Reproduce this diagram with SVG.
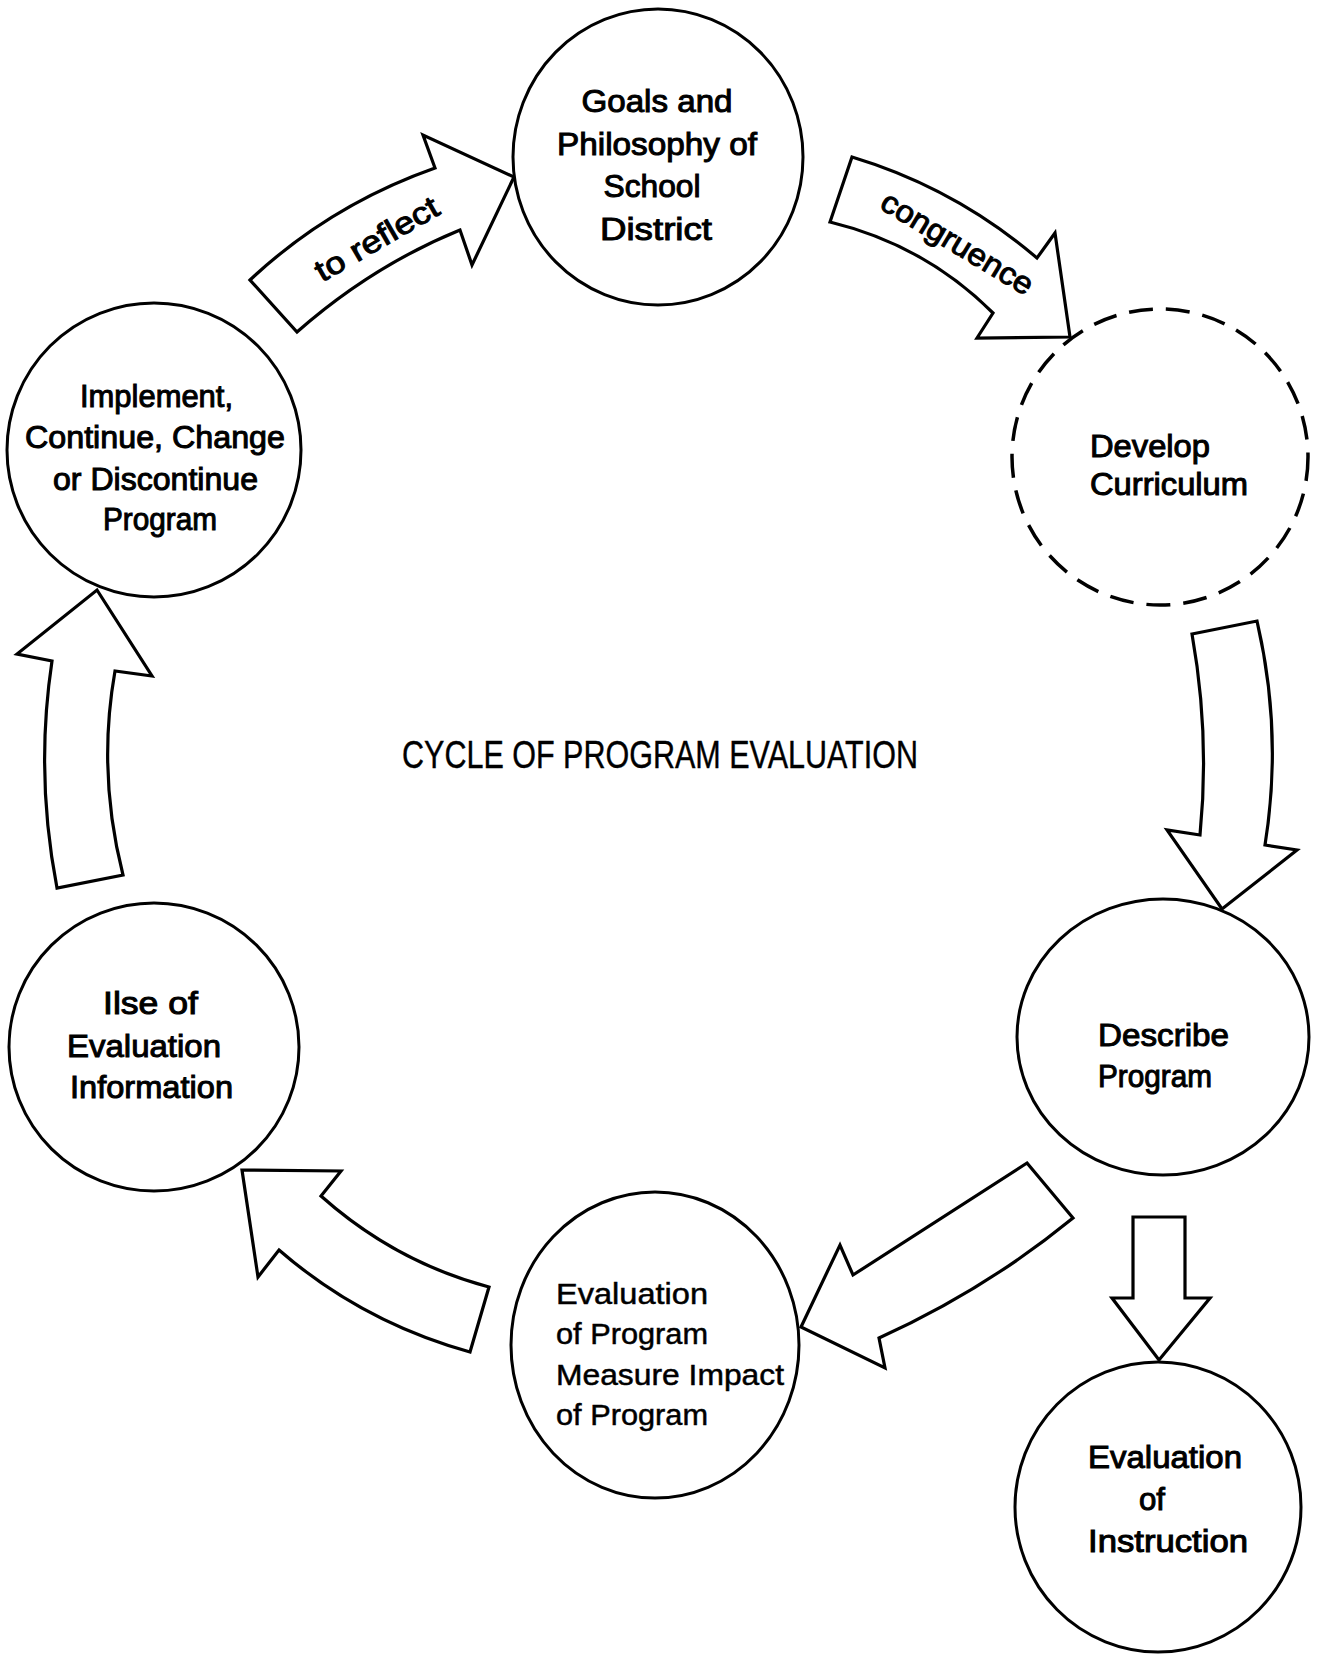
<svg xmlns="http://www.w3.org/2000/svg" width="1321" height="1654" viewBox="0 0 1321 1654">
<style>
.node{fill:#fff;stroke:#000;stroke-width:3}
.dash{fill:#fff;stroke:#000;stroke-width:3.5;stroke-dasharray:24 13}
.arrow{fill:#fff;stroke:#000;stroke-width:3.2;stroke-linejoin:miter}
.t{font-family:"Liberation Sans",Arial,sans-serif;font-size:31px;fill:#000;stroke:#000;stroke-width:1}
.tn{font-family:"Liberation Sans",Arial,sans-serif;font-size:30px;fill:#000;stroke:#000;stroke-width:0.5}
.title{font-family:"Liberation Sans",Arial,sans-serif;font-size:39px;fill:#000;stroke:#000;stroke-width:0.4}
</style>
<rect width="1321" height="1654" fill="#fff"/>
<g id="connectors">
  <g id="arrow-reflect">
    <path class="arrow" d="M250,280 Q330,205 435,168 L423,135 L514,177 L472,265 L460,230 Q372,266 297,332 Z"/>
    <text class="t" transform="translate(382,248) rotate(-30)" text-anchor="middle" textLength="138" lengthAdjust="spacingAndGlyphs">to reflect</text>
  </g>
  <g id="arrow-congruence">
    <path class="arrow" d="M852,157 Q955,188 1037,258 L1055,233 L1070,337 L977,338 L993,313 Q925,245 830,222 Z"/>
    <text class="t" transform="translate(952,252) rotate(31)" text-anchor="middle" textLength="172" lengthAdjust="spacingAndGlyphs">congruence</text>
  </g>
  <path id="arrow-develop-describe" class="arrow" d="M1192,634 L1257,621 Q1283,733 1265,845 L1297,850 L1222,909 L1167,830 L1200,835 Q1210,735 1192,634 Z"/>
  <path id="arrow-describe-instruction" class="arrow" d="M1133,1217 L1185,1217 L1185,1298 L1210,1298 L1159,1360 L1112,1298 L1133,1298 Z"/>
  <path id="arrow-describe-evalprogram" class="arrow" d="M1027,1163 L1073,1218 Q985,1290 879,1338 L885,1368 L801,1327 L840,1245 L853,1275 Q945,1216 1027,1163 Z"/>
  <path id="arrow-evalprogram-use" class="arrow" d="M242,1170 L341,1171 L321,1196 Q395,1262 489,1287 L470,1352 Q362,1322 279,1250 L258,1277 Z"/>
  <path id="arrow-use-implement" class="arrow" d="M97,590 L152,676 L115,671 Q97,773 123,875 L57,888 Q35,774 52,661 L17,654 Z"/>
</g>
<g id="node-goals">
  <ellipse class="node" cx="658" cy="157" rx="145" ry="148"/>
  <text class="t" x="657" y="112" text-anchor="middle" textLength="151" lengthAdjust="spacingAndGlyphs">Goals and</text>
  <text class="t" x="657" y="155" text-anchor="middle" textLength="200" lengthAdjust="spacingAndGlyphs">Philosophy of</text>
  <text class="t" x="652" y="197" text-anchor="middle" textLength="97" lengthAdjust="spacingAndGlyphs">School</text>
  <text class="t" x="656" y="240" text-anchor="middle" textLength="112" lengthAdjust="spacingAndGlyphs">District</text>
</g>
<g id="node-develop">
  <circle class="dash" cx="1160" cy="457" r="148"/>
  <text class="t" x="1090" y="457" textLength="120" lengthAdjust="spacingAndGlyphs">Develop</text>
  <text class="t" x="1090" y="495" textLength="158" lengthAdjust="spacingAndGlyphs">Curriculum</text>
</g>
<g id="node-describe">
  <ellipse class="node" cx="1163" cy="1037" rx="146" ry="138"/>
  <text class="t" x="1098" y="1046" textLength="131" lengthAdjust="spacingAndGlyphs">Describe</text>
  <text class="t" x="1098" y="1087" textLength="114" lengthAdjust="spacingAndGlyphs">Program</text>
</g>
<g id="node-instruction">
  <ellipse class="node" cx="1158" cy="1507" rx="143" ry="145"/>
  <text class="t" x="1088" y="1468" textLength="154" lengthAdjust="spacingAndGlyphs">Evaluation</text>
  <text class="t" x="1139" y="1510" textLength="26" lengthAdjust="spacingAndGlyphs">of</text>
  <text class="t" x="1088" y="1552" textLength="160" lengthAdjust="spacingAndGlyphs">Instruction</text>
</g>
<g id="node-evalprogram">
  <ellipse class="node" cx="655" cy="1345" rx="144" ry="153"/>
  <text class="tn" x="556" y="1304" textLength="152" lengthAdjust="spacingAndGlyphs">Evaluation</text>
  <text class="tn" x="556" y="1344" textLength="152" lengthAdjust="spacingAndGlyphs">of Program</text>
  <text class="tn" x="556" y="1385" textLength="228" lengthAdjust="spacingAndGlyphs">Measure Impact</text>
  <text class="tn" x="556" y="1425" textLength="152" lengthAdjust="spacingAndGlyphs">of Program</text>
</g>
<g id="node-use">
  <ellipse class="node" cx="154" cy="1047" rx="145" ry="144"/>
  <text class="t" x="103" y="1014" textLength="95" lengthAdjust="spacingAndGlyphs">Ilse of</text>
  <text class="t" x="67" y="1057" textLength="154" lengthAdjust="spacingAndGlyphs">Evaluation</text>
  <text class="t" x="70" y="1098" textLength="163" lengthAdjust="spacingAndGlyphs">Information</text>
</g>
<g id="node-implement">
  <circle class="node" cx="154" cy="450" r="147"/>
  <text class="t" x="80" y="407" textLength="153" lengthAdjust="spacingAndGlyphs">Implement,</text>
  <text class="t" x="25" y="448" textLength="260" lengthAdjust="spacingAndGlyphs">Continue, Change</text>
  <text class="t" x="53" y="490" textLength="205" lengthAdjust="spacingAndGlyphs">or Discontinue</text>
  <text class="t" x="103" y="530" textLength="114" lengthAdjust="spacingAndGlyphs">Program</text>
</g>
<text id="title" class="title" x="402" y="768" textLength="516" lengthAdjust="spacingAndGlyphs">CYCLE OF PROGRAM EVALUATION</text>
</svg>
